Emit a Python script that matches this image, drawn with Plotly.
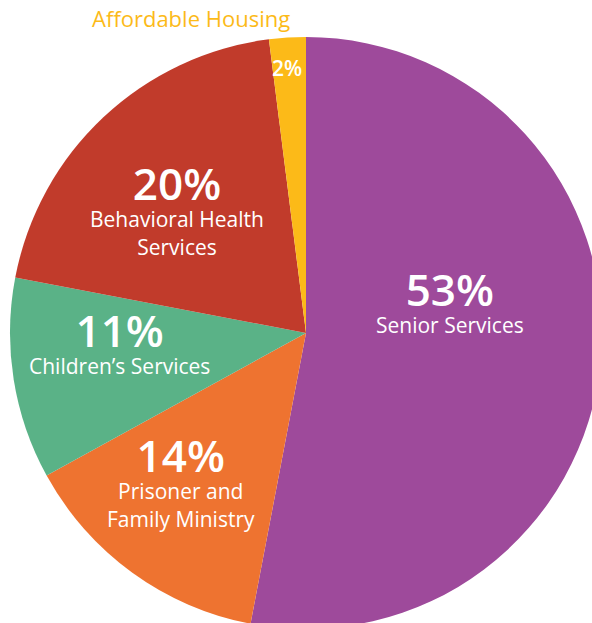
import plotly.graph_objects as go

labels = ["Senior Services", "Prisoner and Family Ministry", "Children’s Services",
          "Behavioral Health Services", "Affordable Housing"]
values = [53, 14, 11, 20, 2]
colors = ["#9E4A9B", "#EE7330", "#5AB287", "#C13B2B", "#FCBA18"]
# display text for names (line breaks)
name_text = ["Senior Services", "Prisoner and<br>Family Ministry", "Children’s Services",
             "Behavioral Health<br>Services", "Affordable Housing"]

W, H = 612, 642
ML, MT, MR, MB = 10, 37, 10, 13
PW, PH = W - ML - MR, H - MT - MB

def px(x, y):
    return (x - ML) / PW, (MT + PH - y) / PH

FONT = "Open Sans"

fig = go.Figure(go.Pie(
    labels=labels, values=values, sort=False, direction="clockwise", rotation=0,
    marker=dict(colors=colors, line=dict(width=0)),
    textinfo="none", hoverinfo="label+percent", showlegend=False,
))

# label block centres (pixels) for slices 0-3
block_pos = [(450, 299), (181, 479), (119, 340), (177, 207)]

ann = []
for i in range(4):
    x, y = px(*block_pos[i])
    txt = (f"<span style='font-size:44px;font-weight:600'>{values[i]}%</span>"
           f"<br>{name_text[i]}")
    ann.append(dict(x=x, y=y, xref="paper", yref="paper", showarrow=False,
                    text=txt, font=dict(family=FONT, size=21, color="white"),
                    xanchor="center", yanchor="middle"))

# small slice: percent inside, name outside
x, y = px(287, 68)
ann.append(dict(x=x, y=y, xref="paper", yref="paper", showarrow=False,
                text=f"{values[4]}%", font=dict(family=FONT, size=21, color="white", weight=600),
                xanchor="center", yanchor="middle"))
x, y = px(191, 18)
ann.append(dict(x=x, y=y, xref="paper", yref="paper", showarrow=False,
                text=name_text[4], font=dict(family=FONT, size=22, color=colors[4]),
                xanchor="center", yanchor="middle"))

fig.update_layout(width=W, height=H, margin=dict(l=ML, r=MR, t=MT, b=MB),
                  paper_bgcolor="white", plot_bgcolor="white", annotations=ann)

fig.write_html("out.html", config={"displayModeBar": False},
               post_script="document.body.style.margin='0';document.body.style.overflow='hidden';")
